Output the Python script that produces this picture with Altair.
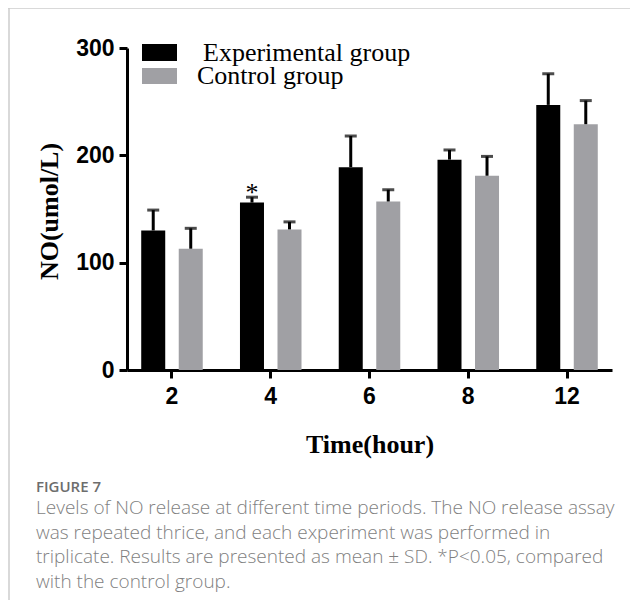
import altair as alt
import pandas as pd

times = ["2", "4", "6", "8", "12"]
groups = ["Experimental group", "Control group"]
exp_mean = [130, 156, 189, 196, 247]
exp_sd = [19, 5, 29, 9, 29]
ctl_mean = [113, 131, 157, 181, 229]
ctl_sd = [19, 7, 11, 18, 22]
exp_sig = ["", "*", "", "", ""]
colors = ["#000000", "#A0A0A4"]
caption_head = "FIGURE 7"
caption_lines = [
    "Levels of NO release at different time periods. The NO release assay",
    "was repeated thrice, and each experiment was performed in",
    "triplicate. Results are presented as mean \u00b1 SD. *P<0.05, compared",
    "with the control group.",
]

rows = []
for i, t in enumerate(times):
    rows.append({"time": t, "group": groups[0], "mean": exp_mean[i],
                 "upper": exp_mean[i] + exp_sd[i], "sig": exp_sig[i]})
    rows.append({"time": t, "group": groups[1], "mean": ctl_mean[i],
                 "upper": ctl_mean[i] + ctl_sd[i], "sig": ""})
df = pd.DataFrame(rows)

x_enc = alt.X("time:N", sort=times,
              scale=alt.Scale(paddingInner=0.377, paddingOuter=0.144),
              axis=alt.Axis(title="Time(hour)", labelAngle=0, titleY=74,
                            titleBaseline="middle"))
xo_enc = alt.XOffset("group:N", sort=groups,
                     scale=alt.Scale(paddingInner=0.36, paddingOuter=0))
y_scale = alt.Scale(domain=[0, 300])

base = alt.Chart(df)

bars = base.mark_bar().encode(
    x=x_enc,
    xOffset=xo_enc,
    y=alt.Y("mean:Q", scale=y_scale,
            axis=alt.Axis(title="NO(umol/L)", values=[0, 100, 200, 300],
                          titleX=-78, titleY=163, titleBaseline="middle")),
    color=alt.Color("group:N", sort=groups,
                    scale=alt.Scale(domain=groups, range=colors),
                    legend=None),
)

err = base.mark_rule(color="#000000", strokeWidth=3).encode(
    x=x_enc, xOffset=xo_enc,
    y=alt.Y("mean:Q", scale=y_scale), y2="upper:Q",
)

caps = base.mark_tick(color="#000000", thickness=3, size=12,
                      orient="horizontal").encode(
    x=x_enc, xOffset=xo_enc,
    y=alt.Y("upper:Q", scale=y_scale),
)

stars = base.mark_text(font="Liberation Serif", fontSize=26,
                       baseline="alphabetic", dy=4, color="#000000").encode(
    x=x_enc, xOffset=xo_enc,
    y=alt.Y("upper:Q", scale=y_scale),
    text="sig:N",
)

one = alt.Data(values=[{}])

# legend (drawn as a guide: swatches + labels)
leg_layers = []
leg_swatch_y = [(-4, 13), (20, 36)]
leg_text_pos = [(76, 13), (70, 36)]
for g, c, (y1, y2), (tx, ty) in zip(groups, colors, leg_swatch_y, leg_text_pos):
    leg_layers.append(alt.Chart(one).mark_rect(color=c).encode(
        x=alt.value(15), x2=alt.value(50), y=alt.value(y1), y2=alt.value(y2)))
    leg_layers.append(alt.Chart(one).mark_text(
        text=g, font="Liberation Serif", fontSize=26, color="#000000",
        align="left", baseline="alphabetic").encode(
        x=alt.value(tx), y=alt.value(ty)))

frame_left = alt.Chart(one).mark_rule(color="#cccccc", strokeWidth=1.5).encode(
    x=alt.value(-118), y=alt.value(-40), y2=alt.value(560))
frame_top = alt.Chart(one).mark_rule(color="#cccccc", strokeWidth=1.5).encode(
    x=alt.value(-119), x2=alt.value(510), y=alt.value(-40))

cap_layers = [
    alt.Chart(one).mark_text(
        text=caption_head, font="Open Sans", fontSize=15, fontWeight=600,
        color="#6d6d6d", align="left", baseline="alphabetic",
    ).encode(x=alt.value(-91), y=alt.value(444))
]
cap_y = [466, 491, 515, 540]
for line, yy in zip(caption_lines, cap_y):
    cap_layers.append(
        alt.Chart(one).mark_text(
            text=line, font="Open Sans", fontSize=19, fontWeight=300,
            color="#7f7f7f", align="left", baseline="alphabetic",
        ).encode(x=alt.value(-91), y=alt.value(yy))
    )

chart = alt.layer(frame_left, frame_top, bars, err, caps, stars,
                  *leg_layers, *cap_layers).properties(
    width=485, height=322,
    autosize=alt.AutoSizeParams(type="none"),
    padding={"left": 119, "top": 40, "right": 18, "bottom": 230},
).configure_view(stroke=None).configure_axis(
    domainColor="#000000", domainWidth=3, tickColor="#000000", tickWidth=3,
    tickSize=8, grid=False, labelFont="Liberation Sans", labelFontSize=23,
    labelFontWeight="bold", labelColor="#000000", labelPadding=5,
    titleFont="Liberation Serif", titleFontSize=26, titleFontWeight="bold",
    titleColor="#000000",
).configure_axisX(labelPadding=7)

chart.save("out.html", embed_options={"renderer": "svg", "actions": False})
